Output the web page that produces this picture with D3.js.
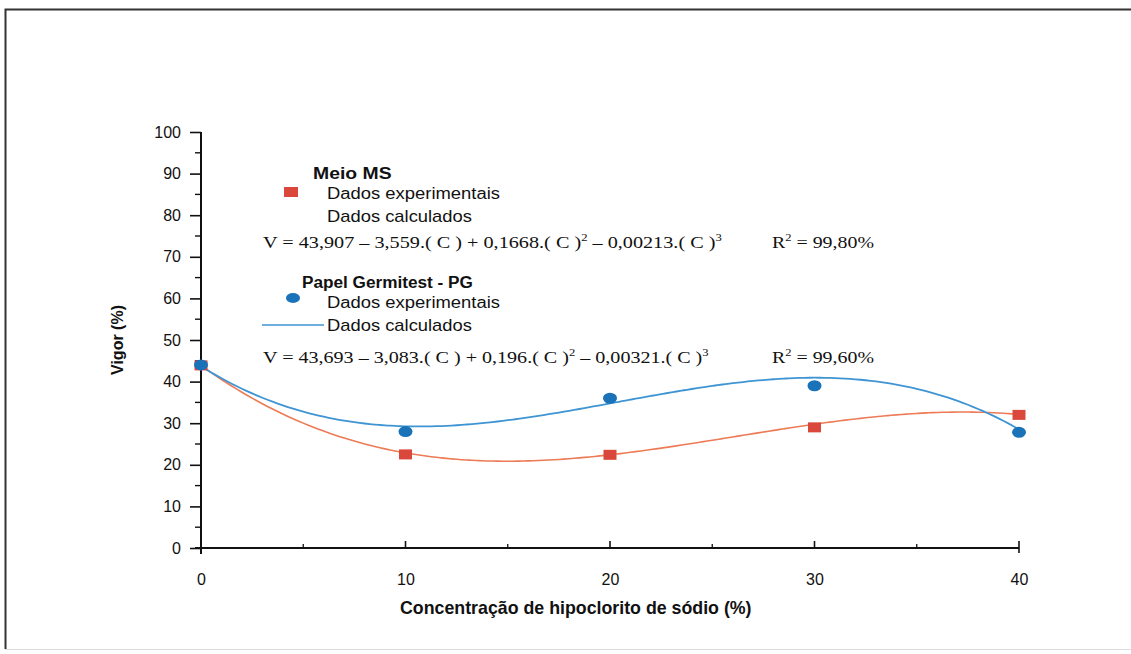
<!DOCTYPE html>
<html>
<head>
<meta charset="utf-8">
<script src="https://cdn.jsdelivr.net/npm/d3@7"></script>
<style>
  html, body { margin: 0; padding: 0; background: #ffffff; }
  svg { display: block; }
</style>
</head>
<body>
<svg id="chart" width="1131" height="654"></svg>
<script>
// Sodium hypochlorite concentration (%) tested
const concentrations = [0, 10, 20, 30, 40];
// Observed vigor (%) for each substrate
const msExperimental = [43.9, 22.5, 22.4, 29.0, 32.0];
const pgExperimental = [44.0, 28.0, 36.0, 39.0, 27.8];
// Cubic fit coefficients (constant, C, C², C³)
const msCoefficients = [43.907, -3.559, 0.1668, -0.00213];
const pgCoefficients = [43.693, -3.083, 0.196, -0.00321];
const msR2 = "99,80%";
const pgR2 = "99,60%";
// Axis ticks
const xTicks = [0, 10, 20, 30, 40];
const yTicks = [0, 10, 20, 30, 40, 50, 60, 70, 80, 90, 100];

const svg = d3.select("#chart");
const sans = "Arial, 'Liberation Sans', Helvetica, sans-serif";
const serif = "'Times New Roman', 'Liberation Serif', serif";

const colMsPoint = "#d9483b", colMsLine = "#ec7b56";
const colPgPoint = "#1a73b8", colPgLine = "#3f95d3";

// stretch a text horizontally from its left edge to a given width
function fitWidth(sel, x0, width) {
  const w = sel.node().getBBox().width;
  const s = width / w;
  sel.attr("transform", `translate(${x0},0) scale(${s},1) translate(${-x0},0)`);
  return sel;
}

// outer frame
svg.append("path")
  .attr("d", "M1131,9.5 H5.5 V649")
  .attr("fill", "none").attr("stroke", "#333").attr("stroke-width", 2);
svg.append("line").attr("x1", 5).attr("x2", 1131).attr("y1", 649.5).attr("y2", 649.5)
  .attr("stroke", "#ddd").attr("stroke-width", 1);

const x = d3.scaleLinear().domain([0, 40]).range([201, 1019]);
const y = d3.scaleLinear().domain([0, 100]).range([548, 132]);

const axisColor = "#111";

// y axis: major ticks outward, minor ticks at every 5
const yAxis = svg.append("g").attr("transform", `translate(${x(0)},0)`)
  .call(d3.axisLeft(y).tickValues(yTicks).tickSize(11).tickPadding(9).tickFormat(d3.format("d")));
yAxis.select(".domain").remove();
yAxis.selectAll(".tick line").attr("stroke", axisColor).attr("stroke-width", 1.6);
yAxis.selectAll(".tick text").attr("font-family", sans).attr("font-size", 16).attr("fill", "#111");
yAxis.append("g").selectAll("line")
  .data(d3.range(5, 100, 10)).join("line")
  .attr("x1", -6).attr("x2", 1).attr("y1", d => y(d)).attr("y2", d => y(d))
  .attr("stroke", axisColor).attr("stroke-width", 1.4);
yAxis.append("line").attr("x1", 0).attr("x2", 0).attr("y1", y(100)).attr("y2", y(0) + 6)
  .attr("stroke", axisColor).attr("stroke-width", 2);

// x axis: ticks pointing into the plot
const xAxis = svg.append("g").attr("transform", `translate(0,${y(0)})`)
  .call(d3.axisBottom(x).tickValues(xTicks).tickSize(0).tickPadding(26).tickFormat(d3.format("d")));
xAxis.select(".domain").remove();
xAxis.selectAll(".tick text").attr("font-family", sans).attr("font-size", 16).attr("fill", "#111");
xAxis.append("g").selectAll("line")
  .data(xTicks.slice(1)).join("line")
  .attr("x1", d => x(d)).attr("x2", d => x(d)).attr("y1", -7).attr("y2", d => d === 40 ? 5 : 0)
  .attr("stroke", axisColor).attr("stroke-width", 1.6);
xAxis.append("g").selectAll("line")
  .data(d3.range(5, 40, 10)).join("line")
  .attr("x1", d => x(d)).attr("x2", d => x(d)).attr("y1", -4).attr("y2", 0)
  .attr("stroke", axisColor).attr("stroke-width", 1.3);
xAxis.append("line").attr("x1", x(0) - 6).attr("x2", x(40)).attr("y1", 0).attr("y2", 0)
  .attr("stroke", axisColor).attr("stroke-width", 2);

// axis titles
svg.append("text")
  .attr("transform", `translate(123,${y(50)}) rotate(-90)`)
  .attr("text-anchor", "middle")
  .attr("font-family", sans).attr("font-size", 16).attr("font-weight", "bold").attr("fill", "#111")
  .text("Vigor (%)");
const xTitle = svg.append("text")
  .attr("x", 400).attr("y", 614)
  .attr("font-family", sans).attr("font-size", 18).attr("font-weight", "bold").attr("fill", "#111")
  .text("Concentração de hipoclorito de sódio (%)");
fitWidth(xTitle, 400, 352);

// fitted cubic curves
const poly = coef => c => coef.reduce((s, a, i) => s + a * Math.pow(c, i), 0);
const cGrid = d3.range(0, 40.001, 0.25);
const line = d3.line().x(d => x(d[0])).y(d => y(d[1])).curve(d3.curveMonotoneX);

const msFit = poly(msCoefficients), pgFit = poly(pgCoefficients);
svg.append("path").datum(cGrid.map(c => [c, msFit(c)]))
  .attr("d", line).attr("fill", "none").attr("stroke", colMsLine).attr("stroke-width", 1.6);
svg.append("path").datum(cGrid.map(c => [c, pgFit(c)]))
  .attr("d", line).attr("fill", "none").attr("stroke", colPgLine).attr("stroke-width", 1.8);

// experimental points
svg.append("g").selectAll("rect")
  .data(concentrations.map((c, i) => [c, msExperimental[i]])).join("rect")
  .attr("x", d => x(d[0]) - 6.5).attr("y", d => y(d[1]) - 5)
  .attr("width", 13).attr("height", 10).attr("fill", colMsPoint);
svg.append("g").selectAll("ellipse")
  .data(concentrations.map((c, i) => [c, pgExperimental[i]])).join("ellipse")
  .attr("cx", d => x(d[0])).attr("cy", d => y(d[1]))
  .attr("rx", 7).attr("ry", 5.5).attr("fill", colPgPoint);

// legend and equations
const lg = svg.append("g").attr("font-family", sans).attr("fill", "#111");
function label(xp, yp, txt, width, bold) {
  const t = lg.append("text").attr("x", xp).attr("y", yp).attr("font-size", 16)
    .attr("font-weight", bold ? "bold" : "normal").text(txt);
  return fitWidth(t, xp, width);
}
label(313, 179, "Meio MS", 79, true);
lg.append("rect").attr("x", 284).attr("y", 187).attr("width", 14).attr("height", 10).attr("fill", colMsPoint);
label(327, 199, "Dados experimentais", 173);
label(327, 222, "Dados calculados", 145);

label(302, 288, "Papel Germitest - PG", 171, true);
lg.append("ellipse").attr("cx", 293).attr("cy", 298).attr("rx", 7).attr("ry", 5).attr("fill", colPgPoint);
label(327, 308, "Dados experimentais", 173);
lg.append("line").attr("x1", 262).attr("x2", 324).attr("y1", 325).attr("y2", 325)
  .attr("stroke", colPgLine).attr("stroke-width", 1.6);
label(327, 331, "Dados calculados", 145);

const fmt = v => String(Math.abs(v)).replace(".", ",");
function equation(yPos, coef, r2, width) {
  const t = svg.append("text").attr("x", 263).attr("y", yPos)
    .attr("font-family", serif).attr("font-size", 16).attr("fill", "#111");
  t.append("tspan").text(`V = ${fmt(coef[0])} – ${fmt(coef[1])}.( C ) + ${fmt(coef[2])}.( C )`);
  t.append("tspan").attr("font-size", 10).attr("dy", -7).text("2");
  t.append("tspan").attr("dy", 7).text(` – ${fmt(coef[3])}.( C  )`);
  t.append("tspan").attr("font-size", 10).attr("dy", -7).text("3");
  fitWidth(t, 263, width);
  const r = svg.append("text").attr("x", 772).attr("y", yPos)
    .attr("font-family", serif).attr("font-size", 16).attr("fill", "#111");
  r.append("tspan").text("R");
  r.append("tspan").attr("font-size", 10).attr("dy", -7).text("2");
  r.append("tspan").attr("dy", 7).text(` = ${r2}`);
  fitWidth(r, 772, 102);
}
equation(248, msCoefficients, msR2, 459);
equation(363, pgCoefficients, pgR2, 446);
</script>
</body>
</html>
